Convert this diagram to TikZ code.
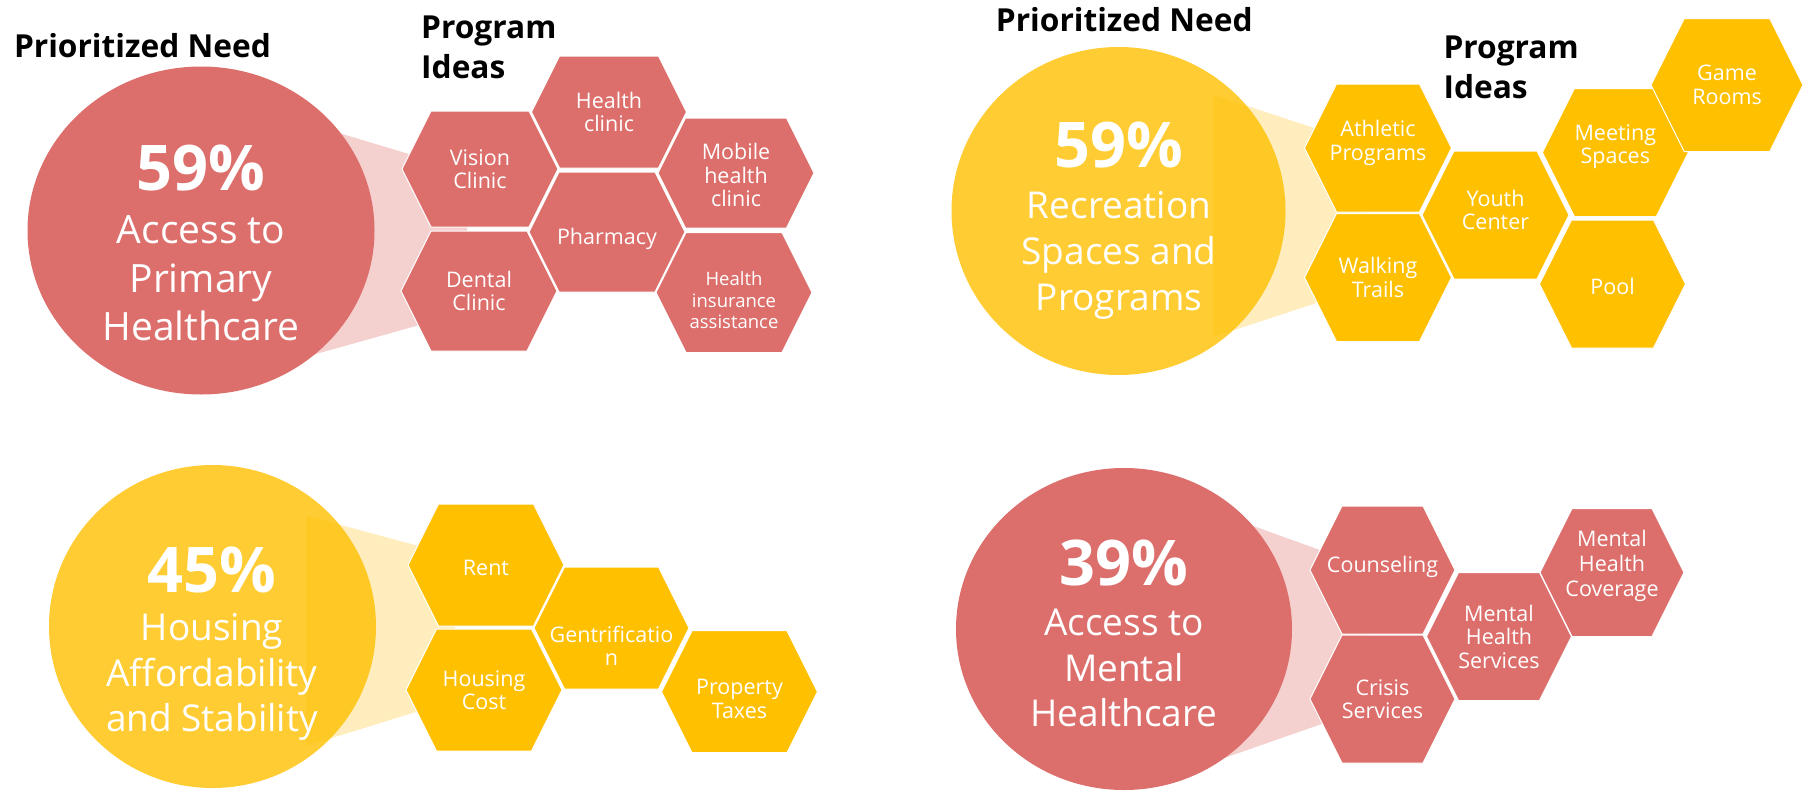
\documentclass[tikz,border=0pt]{standalone}
\usepackage{fontspec}
\setmainfont{Open Sans}
\usepackage{tikz}
\usetikzlibrary{positioning}

\definecolor{needred}{HTML}{DC6E6B}
\definecolor{needredlight}{HTML}{F4D0CF}
\definecolor{needgold}{HTML}{FFC000}
\definecolor{needgoldlight}{HTML}{FFEDBD}

\tikzset{
  heading/.style={font=\bfseries\fontsize{31.7}{40}\selectfont, align=left, anchor=base west, inner sep=0pt},
  pct/.style={font=\bfseries\fontsize{63}{70}\selectfont, text=white, anchor=base, inner sep=0pt},
  needtext/.style={font=\fontsize{37}{45.7}\selectfont, text=white, align=center, anchor=base, inner sep=0pt},
  hextext/.style={font=\fontsize{21.5}{23.5}\selectfont, text=white, align=center, inner sep=0pt},
}

% [text options]{colour}{name}{x}{y}{half width}{half height}{text}
\newcommand{\hexcell}[8][]{%
  \fill[#2,draw=white,line width=1pt] (#4-#6,#5) -- (#4-#6+#7/2,#5-#7) -- (#4+#6-#7/2,#5-#7)
    -- (#4+#6,#5) -- (#4+#6-#7/2,#5+#7) -- (#4-#6+#7/2,#5+#7) -- cycle;
  \node[hextext,#1] (#3) at (#4,#5) {#8};}

\begin{document}
\begin{tikzpicture}[x=1pt,y=-1pt]
  \useasboundingbox (0,0) rectangle (1807,790);

  % top left: primary healthcare
  \fill[needredlight] (296,120.1) -- (467,171.4) -- (467,311.7) -- (296,359.6) -- cycle;
  \fill[needred] (201,230.5) ellipse [x radius=173.5pt, y radius=164pt];
  \node[heading] (tlneed) at (13.8,57.6) {Prioritized Need};
  \node[heading] (tlideas) at (421,78) {Program\\Ideas};
  \node[pct] (tlpct) at (201,190) {59\%};
  \node[needtext, font=\fontsize{39}{48.6}\selectfont] (tllabel) at (201,340.7) {Access to\\Primary\\Healthcare};
  \hexcell{needred}{vision}{480}{169}{78}{58}{Vision\\Clinic}
  \hexcell{needred}{healthclinic}{609}{112}{77.5}{56}{Health\\clinic}
  \hexcell[yshift=-2pt]{needred}{mobile}{736}{173}{78}{55}{Mobile\\health\\clinic}
  \hexcell{needred}{dental}{479}{291}{78}{60}{Dental\\Clinic}
  \hexcell[yshift=-7pt]{needred}{pharmacy}{607}{232}{78}{60}{Pharmacy}
  \hexcell[font=\fontsize{18.5}{21.5}\selectfont, yshift=-8pt]{needred}{insurance}{734}{292.5}{78}{60}{Health\\insurance\\assistance}

  % top right: recreation
  \fill[needgoldlight] (1213,94.6) -- (1365,144.8) -- (1365,287) -- (1213,337.1) -- cycle;
  \fill[needgold, fill opacity=0.8] (1118.5,211) ellipse [x radius=167pt, y radius=164pt];
  \node[heading] (trneed) at (995.7,31.2) {Prioritized Need};
  \node[heading] (trideas) at (1443.3,98.3) {Program\\Ideas};
  \node[pct] (trpct) at (1119,167.8) {59\%};
  \node[needtext] (trlabel) at (1119,310) {Recreation\\Spaces and\\Programs};
  \hexcell[yshift=5pt]{needgold}{athletic}{1378}{148}{73.5}{64}{Athletic\\Programs}
  \hexcell{needgold}{walking}{1378}{277.5}{73.5}{64}{Walking\\Trails}
  \hexcell[yshift=5pt]{needgold}{youth}{1495.5}{215}{73.5}{64}{Youth\\Center}
  \hexcell[yshift=6pt]{needgold}{meeting}{1615.3}{152.5}{73}{64}{Meeting\\Spaces}
  \hexcell[yshift=-2pt]{needgold}{pool}{1612.5}{284}{73}{64}{Pool}
  \hexcell{needgold}{gamerooms}{1727}{85}{76}{66.5}{Game\\Rooms}

  % bottom left: housing
  \fill[needgoldlight] (306,515.6) -- (455,555.8) -- (455,699.9) -- (306,746) -- cycle;
  \fill[needgold, fill opacity=0.8] (212.5,626.5) ellipse [x radius=163.5pt, y radius=161.5pt];
  \node[pct] (blpct) at (212,592.5) {45\%};
  \node[needtext] (bllabel) at (212,731.7) {Housing\\Affordability\\and Stability};
  \hexcell[yshift=-3pt]{needgold}{rent}{486}{565}{78}{61}{Rent}
  \hexcell{needgold}{housingcost}{484}{690}{78}{61}{Housing\\Cost}
  \hexcell[yshift=-18pt]{needgold}{gentrification}{611.5}{628}{77.5}{61}{Gentrificatio\\n}
  \hexcell[yshift=-7pt]{needgold}{taxes}{739.5}{691.7}{78}{61}{Property\\Taxes}

  % bottom right: mental healthcare
  \fill[needredlight] (1219,513.7) -- (1370,568) -- (1370,707) -- (1219,759.9) -- cycle;
  \fill[needred] (1124,629) ellipse [x radius=168pt, y radius=161pt];
  \node[pct] (brpct) at (1124,585) {39\%};
  \node[needtext] (brlabel) at (1124,726.7) {Access to\\Mental\\Healthcare};
  \hexcell[yshift=3pt]{needred}{counseling}{1382.5}{570}{72.5}{64}{Counseling}
  \hexcell{needred}{crisis}{1382.5}{699}{72.5}{64}{Crisis\\Services}
  \hexcell{needred}{mhservices}{1499}{636.5}{72.5}{64}{Mental\\Health\\Services}
  \hexcell[yshift=7pt, font=\fontsize{21.5}{25}\selectfont]{needred}{mhcoverage}{1612}{572.5}{72}{64}{Mental\\Health\\Coverage}
\end{tikzpicture}
\end{document}
